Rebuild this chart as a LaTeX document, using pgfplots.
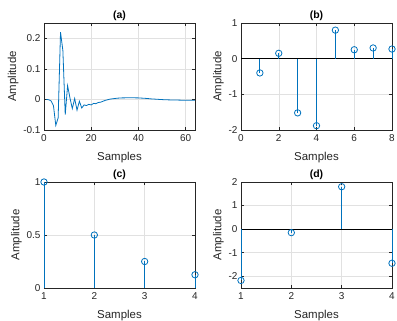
\documentclass[border=0pt]{standalone}
\usepackage{fontspec}
\setmainfont{Liberation Sans}
\usepackage{pgfplots}
\pgfplotsset{compat=1.18}
\definecolor{mblue}{RGB}{0,114,189}
\definecolor{axgray}{RGB}{38,38,38}
\definecolor{gridc}{RGB}{225,225,225}
\pgfplotsset{mstyle/.style={
 scale only axis, clip=false,
 axis line style={axgray, line width=0.5pt},
 tick style={axgray, line width=0.5pt},
 tick align=inside, major tick length=3bp,
 grid=major, major grid style={gridc, line width=0.5pt},
 tick label style={font=\fontsize{10}{12}\selectfont, text=axgray},
 xticklabel style={yshift=-1.5bp},
 /pgf/number format/assume math mode=true,
 label style={font=\fontsize{11.5}{13}\selectfont, text=axgray},
 title style={font=\fontsize{10.5}{12}\selectfont\bfseries, text=black, yshift=-7bp},
 xlabel=Samples, ylabel=Amplitude,
 xlabel style={yshift=-3bp},
 ylabel style={yshift=-2bp},
 width=151bp, height=107bp, anchor=south west,
},
stem/.style={draw=mblue, ycomb, line width=0.8bp, mark=o, mark size=3.2bp, mark options={draw=mblue, line width=0.8bp}},
}
\begin{document}
\begin{tikzpicture}
\useasboundingbox (0,0) rectangle (397bp,321bp);
% (a)
\begin{axis}[mstyle, at={(44bp,191bp)}, title={(a)},
 xmin=0, xmax=64, ymin=-0.1, ymax=0.25, xtick={0,20,40,60}, ytick={-0.1,0,0.1,0.2}]
\addplot[draw=mblue, line width=0.8bp] coordinates {
(1,0) (2,-0.001) (3,-0.005) (4,-0.02) (5,-0.085) (6,-0.06) (7,0.22) (8,0.16)
(9,-0.05) (10,0.045) (11,0.005) (12,-0.03) (13,0.003) (14,-0.035) (15,-0.006) (16,-0.028)
(17,-0.018) (18,-0.02) (19,-0.016) (20,-0.018) (21,-0.013) (22,-0.014) (23,-0.01) (24,-0.009)
(25,-0.006) (26,-0.003) (27,-0.001) (28,0.001) (29,0.002) (30,0.003) (31,0.004) (32,0.0045)
(33,0.005) (34,0.005) (35,0.0055) (36,0.0055) (37,0.0055) (38,0.0055) (39,0.005) (40,0.005)
(41,0.0045) (42,0.004) (43,0.0035) (44,0.003) (45,0.002) (46,0.0015) (47,0.001) (48,0.0005)
(49,0) (50,-0.0005) (51,-0.001) (52,-0.0012) (53,-0.0015) (54,-0.0017) (55,-0.002) (56,-0.002)
(57,-0.0022) (58,-0.0024) (59,-0.0025) (60,-0.0026) (61,-0.0027) (62,-0.0028) (63,-0.003) (64,-0.003)
};
\end{axis}
% (b)
\begin{axis}[mstyle, at={(241bp,191bp)}, title={(b)},
 xmin=0, xmax=8, ymin=-2, ymax=1, xtick={0,2,4,6,8}, ytick={-2,-1,0,1}]
\addplot[black, line width=0.6pt] coordinates {(0,0) (8,0)};
\addplot[stem] coordinates {(1,-0.4) (2,0.15) (3,-1.52) (4,-1.88) (5,0.8) (6,0.25) (7,0.3) (8,0.27)};
\end{axis}
% (c)
\begin{axis}[mstyle, at={(44bp,33bp)}, title={(c)}, height=106bp,
 xmin=1, xmax=4, ymin=0, ymax=1, xtick={1,2,3,4}, ytick={0,0.5,1}]
\addplot[stem] coordinates {(1,1) (2,0.5) (3,0.25) (4,0.125)};
\end{axis}
% (d)
\begin{axis}[mstyle, at={(241bp,33bp)}, title={(d)}, height=106bp,
 xmin=1, xmax=4, ymin=-2.5, ymax=2, xtick={1,2,3,4}, ytick={-2,-1,0,1,2}]
\addplot[black, line width=0.6pt] coordinates {(1,0) (4,0)};
\addplot[stem] coordinates {(1,-2.18) (2,-0.15) (3,1.8) (4,-1.45)};
\end{axis}
\end{tikzpicture}
\end{document}
